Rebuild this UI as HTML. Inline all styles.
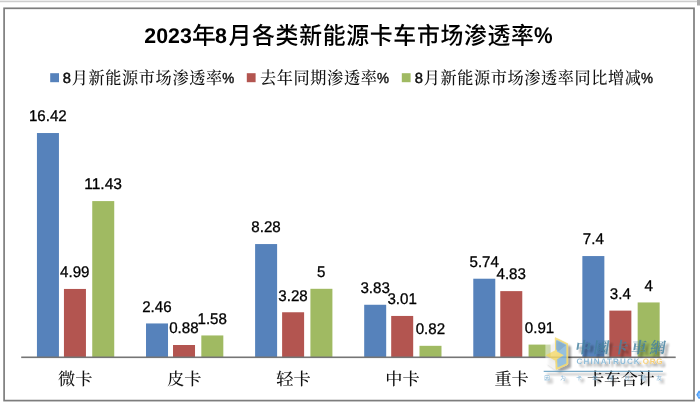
<!DOCTYPE html>
<html lang="zh-CN"><head><meta charset="utf-8"><title>2023年8月各类新能源卡车市场渗透率%</title>
<style>html,body{margin:0;padding:0;background:#fff;}body{width:700px;height:406px;overflow:hidden;}svg{display:block;text-rendering:geometricPrecision;}text{white-space:pre;}</style>
</head><body>
<svg width="700" height="406" viewBox="0 0 700 406">
<rect x="0" y="0" width="700" height="406" fill="#ffffff"/>
<rect x="0" y="0" width="700" height="1" fill="#ececec"/>
<rect x="0" y="1" width="700" height="1" fill="#cdcdcd"/>
<rect x="0" y="2" width="700" height="1" fill="#f3f3f3"/>
<rect x="697" y="0" width="3" height="5.5" fill="#a9a9a9"/>
<rect x="4.1" y="8.3" width="689.9" height="392.3" fill="#ffffff" stroke="#7d7d7d" stroke-width="1.7"/>
<g font-family='"Liberation Sans", "Noto Sans CJK SC", sans-serif' font-weight="700" fill="#000">
<text x="144.3" y="43.1" font-size="21.3" textLength="47.5" lengthAdjust="spacingAndGlyphs">2023</text>
<text x="191.9" y="43.8" font-size="23.8" font-weight="500">年</text>
<text x="215.1" y="43.1" font-size="21.3" textLength="11.9" lengthAdjust="spacingAndGlyphs">8</text>
<g transform="translate(228.5 0) scale(0.96 1)"><text x="0" y="43.8" font-size="23.8" font-weight="500" textLength="318.2" lengthAdjust="spacing">月各类新能源卡车市场渗透率</text></g>
<text x="533.9" y="43.1" font-size="22.5" textLength="18.6" lengthAdjust="spacingAndGlyphs">%</text>
</g>
<rect x="50.2" y="73.2" width="8.8" height="9" fill="#5682BB"/>
<text x="62.8" y="83.0" font-family='"Liberation Sans", sans-serif' font-weight="400" stroke="#111" stroke-width="0.45" font-size="14.6" fill="#111" textLength="8.2" lengthAdjust="spacingAndGlyphs">8</text>
<g transform="translate(71.7 0) scale(0.93 1)"><text x="0" y="84.0" font-family='"Liberation Serif", "Noto Serif CJK SC", serif' font-size="17.4" font-weight="500" fill="#111" textLength="161.8" lengthAdjust="spacing">月新能源市场渗透率</text></g>
<text x="222.2" y="83.0" font-family='"Liberation Sans", sans-serif' font-weight="400" stroke="#111" stroke-width="0.45" font-size="14.6" fill="#111" textLength="12" lengthAdjust="spacingAndGlyphs">%</text>
<rect x="246.8" y="73.2" width="8.8" height="9" fill="#B35550"/>
<g transform="translate(259.9 0) scale(0.93 1)"><text x="0" y="84.0" font-family='"Liberation Serif", "Noto Serif CJK SC", serif' font-size="17.4" font-weight="500" fill="#111" textLength="125.8" lengthAdjust="spacing">去年同期渗透率</text></g>
<text x="376.9" y="83.0" font-family='"Liberation Sans", sans-serif' font-weight="400" stroke="#111" stroke-width="0.45" font-size="14.6" fill="#111" textLength="12" lengthAdjust="spacingAndGlyphs">%</text>
<rect x="401.8" y="73.2" width="8.8" height="9" fill="#A0BA62"/>
<text x="414.8" y="83.0" font-family='"Liberation Sans", sans-serif' font-weight="400" stroke="#111" stroke-width="0.45" font-size="14.6" fill="#111" textLength="8.2" lengthAdjust="spacingAndGlyphs">8</text>
<g transform="translate(423.7 0) scale(0.93 1)"><text x="0" y="84.0" font-family='"Liberation Serif", "Noto Serif CJK SC", serif' font-size="17.4" font-weight="500" fill="#111" textLength="233.7" lengthAdjust="spacing">月新能源市场渗透率同比增减</text></g>
<text x="641.1" y="83.0" font-family='"Liberation Sans", sans-serif' font-weight="400" stroke="#111" stroke-width="0.45" font-size="14.6" fill="#111" textLength="12" lengthAdjust="spacingAndGlyphs">%</text>
<rect x="36.94" y="133.03" width="22" height="223.97" fill="#5682BB"/>
<rect x="63.94" y="288.94" width="22" height="68.06" fill="#B35550"/>
<rect x="92.24" y="201.09" width="22" height="155.91" fill="#A0BA62"/>
<rect x="146.02" y="323.45" width="22" height="33.55" fill="#5682BB"/>
<rect x="173.02" y="345.00" width="22" height="12.00" fill="#B35550"/>
<rect x="201.32" y="335.45" width="22" height="21.55" fill="#A0BA62"/>
<rect x="255.11" y="244.06" width="22" height="112.94" fill="#5682BB"/>
<rect x="282.11" y="312.26" width="22" height="44.74" fill="#B35550"/>
<rect x="310.41" y="288.80" width="22" height="68.20" fill="#A0BA62"/>
<rect x="364.19" y="304.76" width="22" height="52.24" fill="#5682BB"/>
<rect x="391.19" y="315.94" width="22" height="41.06" fill="#B35550"/>
<rect x="419.49" y="345.82" width="22" height="11.18" fill="#A0BA62"/>
<rect x="473.28" y="278.71" width="22" height="78.29" fill="#5682BB"/>
<rect x="500.28" y="291.12" width="22" height="65.88" fill="#B35550"/>
<rect x="528.58" y="344.59" width="22" height="12.41" fill="#A0BA62"/>
<rect x="582.36" y="256.06" width="22" height="100.94" fill="#5682BB"/>
<rect x="609.36" y="310.62" width="22" height="46.38" fill="#B35550"/>
<rect x="637.66" y="302.44" width="22" height="54.56" fill="#A0BA62"/>
<rect x="21.2" y="356.5" width="654.5" height="1.6" fill="#757575"/>
<g font-family='"Liberation Sans", sans-serif' font-size="15.5" fill="#000" stroke="#000" stroke-width="0.3">
<text x="28.9" y="121.2" textLength="37.8" lengthAdjust="spacingAndGlyphs">16.42</text>
<text x="60.1" y="277.1" textLength="29.4" lengthAdjust="spacingAndGlyphs">4.99</text>
<text x="84.2" y="189.3" textLength="37.8" lengthAdjust="spacingAndGlyphs">11.43</text>
<text x="142.2" y="311.6" textLength="29.4" lengthAdjust="spacingAndGlyphs">2.46</text>
<text x="169.2" y="333.2" textLength="29.4" lengthAdjust="spacingAndGlyphs">0.88</text>
<text x="197.5" y="323.6" textLength="29.4" lengthAdjust="spacingAndGlyphs">1.58</text>
<text x="251.3" y="232.3" textLength="29.4" lengthAdjust="spacingAndGlyphs">8.28</text>
<text x="278.3" y="300.5" textLength="29.4" lengthAdjust="spacingAndGlyphs">3.28</text>
<text x="317.1" y="277.0" textLength="8.4" lengthAdjust="spacingAndGlyphs">5</text>
<text x="360.4" y="293.0" textLength="29.4" lengthAdjust="spacingAndGlyphs">3.83</text>
<text x="387.4" y="304.1" textLength="29.4" lengthAdjust="spacingAndGlyphs">3.01</text>
<text x="415.7" y="334.0" textLength="29.4" lengthAdjust="spacingAndGlyphs">0.82</text>
<text x="469.5" y="266.9" textLength="29.4" lengthAdjust="spacingAndGlyphs">5.74</text>
<text x="496.5" y="279.3" textLength="29.4" lengthAdjust="spacingAndGlyphs">4.83</text>
<text x="524.8" y="332.8" textLength="29.4" lengthAdjust="spacingAndGlyphs">0.91</text>
<text x="582.8" y="244.3" textLength="21.0" lengthAdjust="spacingAndGlyphs">7.4</text>
<text x="609.8" y="298.8" textLength="21.0" lengthAdjust="spacingAndGlyphs">3.4</text>
<text x="644.4" y="290.6" textLength="8.4" lengthAdjust="spacingAndGlyphs">4</text>
</g>
<g font-family='"Liberation Serif", "Noto Serif CJK SC", serif' font-size="17.2" font-weight="500" fill="#111" text-anchor="middle">
<text x="75.2" y="384.7">微卡</text>
<text x="184.3" y="384.7">皮卡</text>
<text x="293.4" y="384.7">轻卡</text>
<text x="402.5" y="384.7">中卡</text>
<text x="511.6" y="384.7">重卡</text>
<text x="620.7" y="384.7" letter-spacing="-0.4">卡车合计</text>
</g>
<defs>
<filter id="wmsh" x="-10%" y="-20%" width="125%" height="150%">
<feGaussianBlur in="SourceAlpha" stdDeviation="1.3" result="b"/>
<feOffset in="b" dx="3" dy="3.2" result="o"/>
<feComponentTransfer in="o" result="s"><feFuncA type="linear" slope="0.45"/></feComponentTransfer>
<feMerge><feMergeNode in="s"/><feMergeNode in="SourceGraphic"/></feMerge>
</filter>
</defs>
<g filter="url(#wmsh)">
<g opacity="0.8">
<polygon points="555.4,337.6 545.4,343.6 545.4,362.6 555.4,369.6" fill="#ffffff" opacity="0.6"/>
<polygon points="555.6,338.2 567.2,344 567.2,364 556.6,368.8" fill="#8dbfe2" stroke="#f5da68" stroke-width="1.7" stroke-linejoin="round"/>
<polygon points="556.2,340.2 566,345.2 558.6,351.2 556.2,349.6" fill="#7aa9cd"/>
<polygon points="545.6,355.3 554.9,350.4 563.9,355.3 554.9,360.6" fill="#f9df72"/>
</g>
<text x="574.4" y="353.2" font-family='"Liberation Serif", "Noto Serif CJK SC", serif' font-weight="700" font-size="15.6" fill="#44809f" opacity="0.82" textLength="90.5" lengthAdjust="spacing" transform="translate(0 353.2) skewX(-9) translate(0 -353.2)">中國卡車網</text>
<text x="576.6" y="364" font-family='"Liberation Sans", sans-serif' font-weight="700" font-size="8" fill="#8ab9d6" opacity="0.95" textLength="63" lengthAdjust="spacing">CHINATRUCK</text>
<text x="639.6" y="364" font-family='"Liberation Sans", sans-serif' font-weight="700" font-size="8" fill="#f6cd72" opacity="0.95" textLength="23" lengthAdjust="spacing">.ORG</text>
<rect x="543.7" y="370.8" width="119.2" height="1" fill="#4f8fb5" opacity="0.95"/>
<text x="544.2" y="380" font-family='"Liberation Sans", "Noto Sans CJK SC", sans-serif' font-size="5.6" fill="#7fb1d3" textLength="117.6" lengthAdjust="spacing">因为卡车所以朋友</text>
</g>
<polygon points="696.2,394.7 698.6,390.8 700,390.8 700,398.8 698.6,398.8" fill="#4fa0f8"/>
<rect x="698.4" y="393.6" width="1.6" height="0.9" fill="#d8ebff"/>
<rect x="698.4" y="395.6" width="1.6" height="0.9" fill="#d8ebff"/>
</svg>
</body></html>
